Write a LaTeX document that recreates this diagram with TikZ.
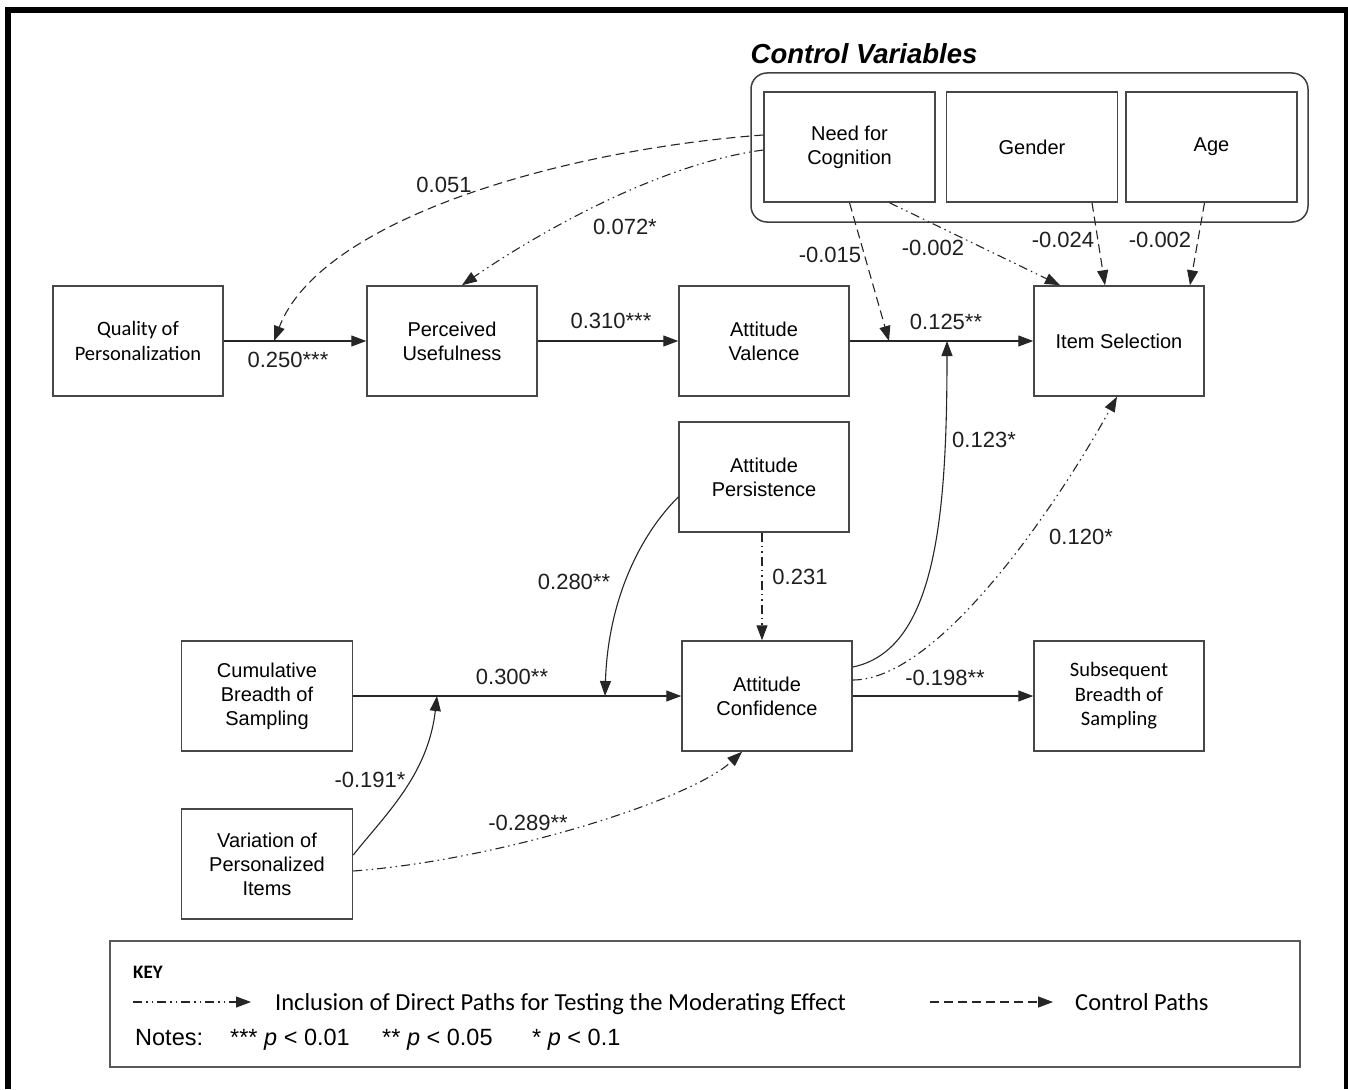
\documentclass[tikz,border=0pt]{standalone}
\usepackage{fontspec}
\setmainfont{Liberation Sans}
\newfontfamily\calib{Carlito}
\usetikzlibrary{arrows.meta}

\begin{document}
\begin{tikzpicture}[x=1pt,y=-1pt,
  box/.style={draw=black!72, line width=1.5pt, fill=white, minimum width=170pt,
    minimum height=110pt, align=center, inner sep=0pt,
    font=\fontsize{20}{24}\selectfont},
  cbox/.style={box, font=\calib\fontsize{20.5}{24.5}\selectfont},
  lbl/.style={font=\fontsize{22}{26}\selectfont, inner sep=0pt, text=black!88},
  conn/.style={draw=black!85, line width=1.1pt, -{Triangle[length=15pt,width=11pt]}},
  ctl/.style={conn, dash pattern=on 9pt off 5pt},
  mod/.style={conn, dash pattern=on 9pt off 4pt on 1.5pt off 4pt on 1.5pt off 4pt},
  keytext/.style={font=\calib\fontsize{24.5}{28}\selectfont, inner sep=0pt, anchor=base west},
  notetext/.style={font=\fontsize{23.5}{27}\selectfont, inner sep=0pt, anchor=base west},
]
\useasboundingbox (0,0) rectangle (1348,1089);
\fill[white] (0,0) rectangle (1348,1089);

% frame (open at the bottom)
\fill[black] (5,7) rectangle (1348,13);
\fill[black] (5,7) rectangle (11,1089);
\fill[black] (1344,7) rectangle (1348,1089);

% control variables group
\node (ctrltitle) at (864,54) {\fontsize{27.5}{31}\selectfont\bfseries\itshape Control Variables};
\node (ctrl) [draw=black!75, line width=1.5pt, rounded corners=16pt,
  minimum width=557pt, minimum height=149pt, inner sep=0pt] at (1029.5,147.5) {};
\node[box, minimum width=171pt] (nfc) at (849.5,147) {Need for\\Cognition};
\node[box, minimum width=171pt] (gen) at (1032,147) {Gender};
\node[box, minimum width=171pt] (age) at (1211.5,147) {Age};

% main constructs
\node[cbox] (qop) at (138,341) {Quality of\\Personalization};
\node[box] (pu) at (452,341) {Perceived\\Usefulness};
\node[box] (av) at (764,341) {Attitude\\Valence};
\node[box] (is) at (1119,341) {Item Selection};
\node[box] (ap) at (764,477) {Attitude\\Persistence};
\node[box] (ac) at (767,696) {Attitude\\Confidence};
\node[cbox] (sbs) at (1119,696) {Subsequent\\Breadth of\\Sampling};
\node[box, minimum width=171pt] (cbs) at (267,696) {Cumulative\\Breadth of\\Sampling};
\node[box, minimum width=171pt] (vpi) at (267,864) {Variation of\\Personalized\\Items};

% points on paths where moderating / control effects land
\coordinate (m1) at (274,341);
\coordinate (m2) at (889,341);
\coordinate (m3) at (947,341);
\coordinate (m4) at (437,696);
\coordinate (m5) at (605,696);

% direct paths
\draw[conn] (qop) -- (pu);
\draw[conn] (pu) -- (av);
\draw[conn] (av) -- (is);
\draw[conn] (cbs) -- (ac);
\draw[conn] (ac) -- (sbs);

% moderating effects
\draw[conn] ([yshift=29pt]ac.east) .. controls (935,650) and (947,520) .. (m3);
\draw[conn] ([yshift=-20pt]ap.west) .. controls (640,535) and (608,600) .. (m5);
\draw[conn] ([yshift=9pt]vpi.east) .. controls (385,815) and (428,775) .. (m4);

% direct paths for testing moderation
\draw[mod] ([yshift=-3pt]nfc.west) .. controls (650,165) and (520,245) .. ([xshift=10pt]pu.north);
\draw[mod] ([xshift=40pt]nfc.south) -- ([xshift=-59pt]is.north);
\draw[mod] ([yshift=16pt]ac.east) .. controls (940,680) and (1060,500) .. ([xshift=-2pt]is.south);
\draw[mod] ([xshift=-2pt]ap.south) -- ([xshift=-5pt]ac.north);
\draw[mod] ([yshift=-7pt]vpi.east) .. controls (500,860) and (690,800) .. ([xshift=-25pt]ac.south);

% control paths
\draw[ctl] ([yshift=12pt]nfc.west) .. controls (560,150) and (320,220) .. (m1);
\draw[ctl] (nfc.south) -- (m2);
\draw[ctl] ([xshift=60pt]gen.south) -- ([xshift=-14pt]is.north);
\draw[ctl] ([xshift=-7pt]age.south) -- ([xshift=71pt]is.north);

% coefficients
\node[lbl] (l1) at (288,360) {0.250***};
\node[lbl] (l2) at (611,321) {0.310***};
\node[lbl] (l3) at (946,322) {0.125**};
\node[lbl] (l4) at (444,185) {0.051};
\node[lbl] (l5) at (625,227) {0.072*};
\node[lbl] (l6) at (830,255) {-0.015};
\node[lbl] (l7) at (933,248) {-0.002};
\node[lbl] (l8) at (1063,240) {-0.024};
\node[lbl] (l9) at (1160,240) {-0.002};
\node[lbl] (l10) at (984,440) {0.123*};
\node[lbl] (l11) at (1081,537) {0.120*};
\node[lbl] (l12) at (800,577) {0.231};
\node[lbl] (l13) at (945,678) {-0.198**};
\node[lbl] (l14) at (574,582) {0.280**};
\node[lbl] (l15) at (512,677) {0.300**};
\node[lbl] (l16) at (370,780) {-0.191*};
\node[lbl] (l17) at (528,823) {-0.289**};

% key
\node (key) [draw=black!65, line width=1.6pt, minimum width=1190pt, minimum height=126pt,
  inner sep=0pt] at (705,1004) {};
\node[font=\calib\bfseries\fontsize{19}{22}\selectfont, inner sep=0pt, anchor=base west]
  (keyhead) at (133,978) {KEY};
\coordinate (k1a) at (133,1002);
\coordinate (k1b) at (251,1002);
\draw[mod] (k1a) -- (k1b);
\node[keytext] (k1t) at (275,1010) {Inclusion of Direct Paths for Testing the Moderating Effect};
\coordinate (k2a) at (930,1002);
\coordinate (k2b) at (1053,1002);
\draw[ctl] (k2a) -- (k2b);
\node[keytext] (k2t) at (1075,1010) {Control Paths};
\node[notetext] (n0) at (135,1045) {Notes:};
\node[notetext] (n1) at (230,1045) {*** \textit{p} < 0.01};
\node[notetext] (n2) at (382,1045) {** \textit{p} < 0.05};
\node[notetext] (n3) at (532,1045) {* \textit{p} < 0.1};
\end{tikzpicture}
\end{document}
